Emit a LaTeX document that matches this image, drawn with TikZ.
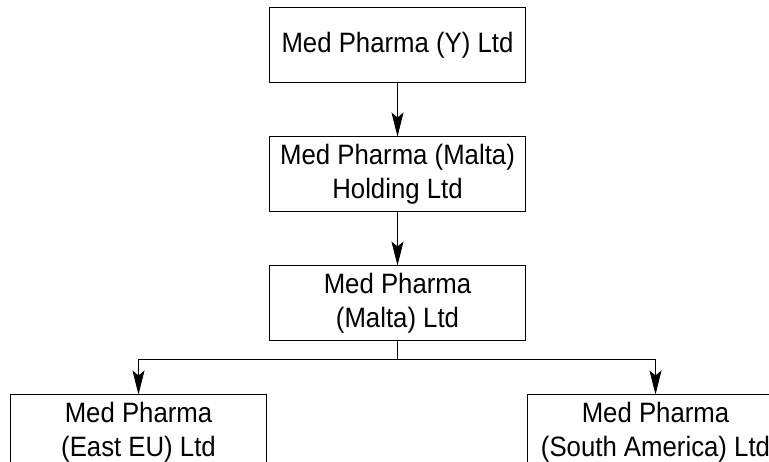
\documentclass[tikz,border=0pt]{standalone}
\usepackage{fontspec}
\setmainfont[FakeStretch=0.92]{Liberation Sans}
\usepackage{tikz}
\usetikzlibrary{positioning,arrows.meta}

\begin{document}
\begin{tikzpicture}[node distance=53pt, every node/.style={font=\fontsize{28}{34}\selectfont},
    company/.style={rectangle, draw=black, line width=1pt, minimum width=256pt, minimum height=75pt, align=center, inner sep=2pt},
    owns/.style={-{Stealth[length=24pt, width=12pt, inset=5pt]}, line width=1pt}]
    \useasboundingbox (0,0) rectangle (769pt,461pt);
    \node[company] (holdco) at (397.5pt,415.5pt) {Med Pharma (Y) Ltd};
    \node[company, below=of holdco] (maltahold) {Med Pharma (Malta)\\Holding Ltd};
    \node[company, below=of maltahold] (malta) {Med Pharma\\(Malta) Ltd};
    \node[company, below left=53pt and 2pt of malta] (easteu) {Med Pharma\\(East EU) Ltd};
    \node[company, below right=53pt and 1pt of malta] (southam) {Med Pharma\\(South America) Ltd};
    \coordinate[below=18pt of malta] (split);
    \draw[owns] (holdco) -- (maltahold);
    \draw[owns] (maltahold) -- (malta);
    \draw[line width=1pt] (malta) -- (split);
    \draw[owns] (split) -| (easteu);
    \draw[owns] (split) -| (southam);
\end{tikzpicture}
\end{document}
